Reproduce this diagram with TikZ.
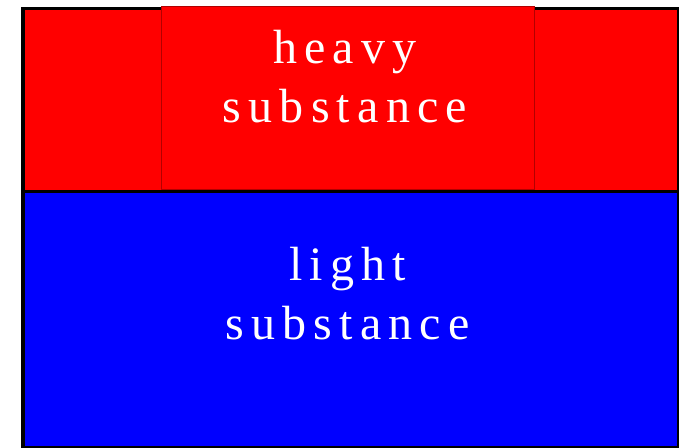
\documentclass[tikz,border=0pt]{standalone}
\usepackage{fontspec}
\usepackage{tikz}
\usetikzlibrary{positioning}
\newfontfamily\tagfont[LetterSpace=15]{Liberation Serif}
\tikzset{
  phase/.style={draw=black, line width=3.5pt, minimum width=655.5pt, inner sep=0pt, anchor=north west},
  heavyfill/.style={phase, fill=red, minimum height=183.2pt},
  lightfill/.style={phase, fill=blue, minimum height=255.8pt},
  textbox/.style={draw=red!70!black, line width=0.8pt, fill=red, minimum width=373pt, minimum height=183pt, inner sep=0pt, anchor=north west},
  tag/.style={text=white, align=center, inner sep=0pt, xshift=-3pt, font={\tagfont\fontsize{48}{59}\selectfont}},
}

\begin{document}
\begin{tikzpicture}[x=1pt, y=-1pt]
  \useasboundingbox[fill=white] (0,0) rectangle (679,447);
  \node[lightfill] (lightside) at (21,189.7) {};
  \node[heavyfill] (heavyside) at (21,6.5) {};
  \node[textbox] (heavybox) at (161,6) {};
  \node[tag, below=24pt of heavybox.north] (heavy) {heavy\\substance};
  \node[tag, below=57pt of lightside.north] (light) {light\\substance};
\end{tikzpicture}
\end{document}
